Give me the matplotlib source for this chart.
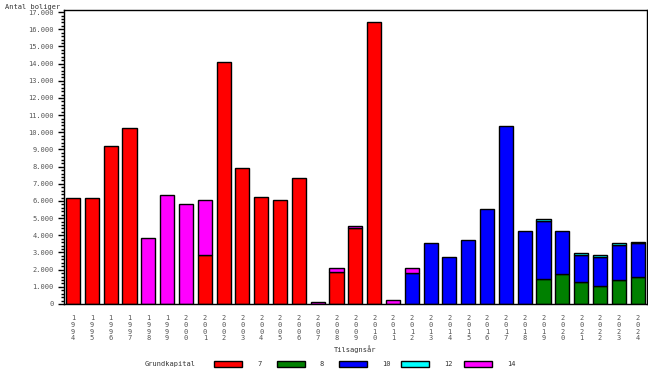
import matplotlib.pyplot as plt
import matplotlib.patches as mpatches
from matplotlib.ticker import MultipleLocator, FuncFormatter
import numpy as np

years = list(range(1994, 2025))

# antal boliger pr. grundkapital-procent (stables nedefra: 7, 8, 10, 12, 14)
kap7 = [6200, 6150, 9200, 10250, 0, 0, 0, 2850, 14100, 7920, 6220, 6040, 7330, 0,
        1850, 4430, 16400, 0, 0, 0, 0, 0, 0, 0, 0, 0, 0, 0, 0, 0, 0]
kap8 = [0] * 25 + [1450, 1730, 1260, 1030, 1380, 1550]
kap10 = [0] * 18 + [1800, 3540, 2720, 3710, 5520, 10360, 4240,
                    3390, 2500, 1610, 1700, 2050, 1980]
kap12 = [0] * 25 + [100, 0, 80, 120, 120, 80]
kap14 = [0, 0, 0, 0, 3830, 6330, 5810, 3200, 0, 0, 0, 0, 0, 110,
         230, 100, 0, 220, 280, 0, 0, 0, 0, 0, 0, 0, 0, 0, 0, 0, 0]

series = [("7", kap7, "#ff0000"), ("8", kap8, "#008000"), ("10", kap10, "#0000ff"),
          ("12", kap12, "#00ffff"), ("14", kap14, "#ff00ff")]

font = "DejaVu Sans Mono"
grey = "#555555"

fig = plt.figure(figsize=(6.48, 3.73), dpi=100)
ax = fig.add_axes([0.0988, 0.185, 0.8997, 0.787])

x = np.arange(len(years))
bottom = np.zeros(len(years))
for navn, vals, farve in series:
    vals = np.array(vals, dtype=float)
    mask = vals > 0
    ax.bar(x[mask], vals[mask], bottom=bottom[mask], width=0.75, color=farve,
           edgecolor="black", linewidth=1.0)
    bottom += vals

ax.set_xlim(-0.48, len(years) - 0.5)
ax.set_ylim(0, 17100)
ax.yaxis.set_major_locator(MultipleLocator(1000))
ax.yaxis.set_minor_locator(MultipleLocator(200))
ax.yaxis.set_major_formatter(FuncFormatter(lambda v, p: f"{int(v):,}".replace(",", ".")))
ax.tick_params(axis="y", which="major", length=4, width=1, labelsize=5, labelcolor=grey)
ax.tick_params(axis="y", which="minor", length=2, width=1)
for lab in ax.get_yticklabels():
    lab.set_fontfamily(font)

ax.set_xticks(x)
ax.set_xticklabels(["\n".join(str(y)) for y in years], fontsize=5, color=grey,
                   family=font, linespacing=1.15)
ax.tick_params(axis="x", length=0, pad=8)

for sp in ax.spines.values():
    sp.set_linewidth(1.0)

fig.text(0.008, 0.988, "Antal boliger", fontsize=5, family=font, color="#333333",
         va="top", ha="left")
fig.text(0.548, 0.064, "Tilsagnsår", fontsize=5, family=font, color="#333333",
         va="center", ha="center")

# forklaring
ly = 1 - 364 / 373
fig.text(145 / 648, ly, "Grundkapital", fontsize=5, family=font, color="#333333",
         va="center", ha="left")
px = [214, 277, 339, 401, 464]
for (navn, vals, farve), p in zip(series, px):
    fig.patches.append(mpatches.Rectangle((p / 648, 1 - 367 / 373), 28 / 648, 6 / 373,
                                          transform=fig.transFigure, facecolor=farve,
                                          edgecolor="black", linewidth=1.0))
    fig.text((p + 43) / 648, ly, navn, fontsize=5, family=font, color="#333333",
             va="center", ha="left")

fig.savefig("out.png", dpi=100)
